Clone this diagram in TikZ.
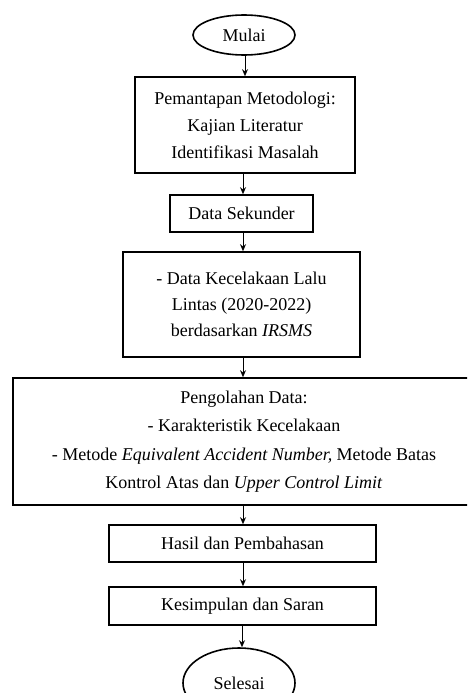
\documentclass[tikz,border=0pt]{standalone}
\usepackage{fontspec}
\setmainfont{Liberation Serif}
\usetikzlibrary{shapes.geometric,arrows.meta}
\begin{document}
\begin{tikzpicture}[x=1pt,y=-1pt,
  base/.style={draw=black,line width=1.6pt,align=center,inner sep=0pt,
    font=\fontsize{18}{27}\selectfont},
  procbox/.style={base,rectangle},
  term/.style={base,ellipse},
  flow/.style={-{Stealth[length=7pt,width=6pt]},line width=0.9pt}]
\useasboundingbox (0,0) rectangle (467,693);
\begin{scope}
\clip (0,0) rectangle (467,693);
\node[term,minimum width=102pt,minimum height=40pt] (mulai) at (244,35) {Mulai};
\node[procbox,minimum width=220pt,minimum height=96pt] (b1) at (245,125)
  {Pemantapan Metodologi:\\Kajian Literatur\\Identifikasi Masalah};
\node[procbox,minimum width=143pt,minimum height=37pt] (b2) at (241.5,213.5) {Data Sekunder};
\node[procbox,minimum width=237pt,minimum height=105pt,font=\fontsize{18}{26}\selectfont] (b3) at (241.5,304.5)
  {- Data Kecelakaan Lalu\\Lintas (2020-2022)\\berdasarkan \textit{IRSMS}};
\node[procbox,minimum width=462pt,minimum height=127pt,font=\fontsize{18}{28.5}\selectfont] (b4) at (244,441.5)
  {Pengolahan Data:\\- Karakteristik Kecelakaan\\- Metode \textit{Equivalent Accident Number,} Metode Batas\\Kontrol Atas dan \textit{Upper Control Limit}};
\node[procbox,minimum width=267pt,minimum height=37pt] (b5) at (242.5,543.5) {Hasil dan Pembahasan};
\node[procbox,minimum width=267pt,minimum height=38pt] (b6) at (242.5,606) {Kesimpulan dan Saran};
\node[term,minimum width=112pt,minimum height=70pt] (selesai) at (239,683) {Selesai};
\draw[flow] (mulai.south -| 245,0) -- (b1.north -| 245,0);
\draw[flow] (b1.south -| 243,0) -- (b2.north -| 243,0);
\draw[flow] (b2.south -| 243,0) -- (b3.north -| 243,0);
\draw[flow] (b3.south -| 243,0) -- (b4.north -| 243,0);
\draw[flow] (b4.south -| 243,0) -- (b5.north -| 243,0);
\draw[flow] (b5.south -| 243,0) -- (b6.north -| 243,0);
\draw[flow] (b6.south -| 242,0) -- (selesai.north -| 242,0);
\end{scope}
\end{tikzpicture}
\end{document}
